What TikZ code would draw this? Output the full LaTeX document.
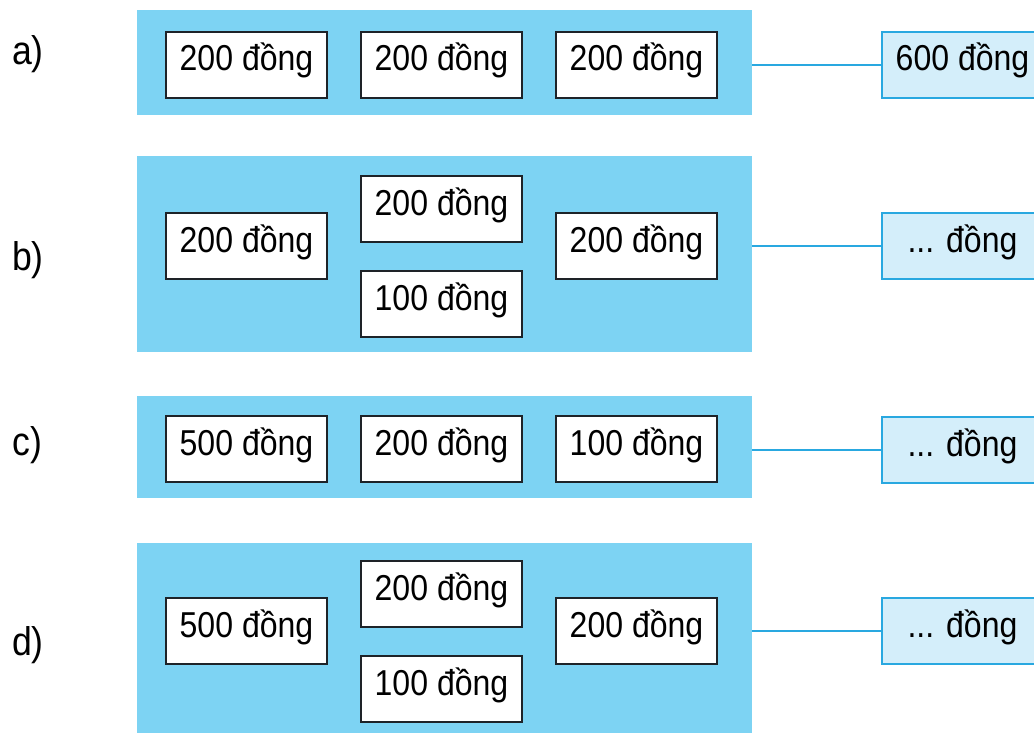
\documentclass[tikz,border=0pt]{standalone}
\usepackage{fontspec}
\setmainfont{Liberation Sans}[FakeStretch=0.89]
\definecolor{panel}{RGB}{125,211,243}
\definecolor{resfill}{RGB}{212,238,250}
\definecolor{resline}{RGB}{41,168,224}
\definecolor{boxline}{RGB}{30,35,40}
\begin{document}
\begin{tikzpicture}[x=1pt,y=-1pt,
  coin/.style={draw=boxline,line width=2.8pt,fill=white,minimum width=161pt,
    inner xsep=0pt,inner ysep=0pt,text height=39pt,text depth=27pt,
    font=\fontsize{36}{40}\selectfont},
  result/.style={coin,draw=resline,line width=2.6pt,fill=resfill},
  panelbox/.style={fill=panel,draw=none,inner sep=0pt,minimum width=615pt},
  lab/.style={font=\fontsize{40}{44}\selectfont,inner sep=0pt,anchor=base west},
  link/.style={draw=resline,line width=2.6pt}]
\clip (0,0) rectangle (1034,733);
\fill[white] (0,0) rectangle (1034,733);

% panels
\node[panelbox,minimum height=105pt] (pa) at (444.5,62.5) {};
\node[panelbox,minimum height=196pt] (pb) at (444.5,254) {};
\node[panelbox,minimum height=102pt] (pc) at (444.5,447) {};
\node[panelbox,minimum height=202pt] (pd) at (444.5,644) {};

% labels
\node[lab] (la) at (12,65) {a)};
\node[lab] (lb) at (12,270) {b)};
\node[lab] (lc) at (12,455) {c)};
\node[lab] (ld) at (12,655) {d)};

% row a
\node[coin] (a1) at (246.5,65) {200 đồng};
\node[coin] (a2) at (441.5,65) {200 đồng};
\node[coin] (a3) at (636.5,65) {200 đồng};
\node[result] (ra) at (962.5,65) {600 đồng};

% row b
\node[coin] (b1) at (246.5,246) {200 đồng};
\node[coin] (b2) at (441.5,209) {200 đồng};
\node[coin] (b3) at (441.5,304) {100 đồng};
\node[coin] (b4) at (636.5,246) {200 đồng};
\node[result] (rb) at (962.5,246) {... đồng};

% row c
\node[coin] (c1) at (246.5,449) {500 đồng};
\node[coin] (c2) at (441.5,449) {200 đồng};
\node[coin] (c3) at (636.5,449) {100 đồng};
\node[result] (rc) at (962.5,450) {... đồng};

% row d
\node[coin] (d1) at (246.5,631) {500 đồng};
\node[coin] (d2) at (441.5,594) {200 đồng};
\node[coin] (d3) at (441.5,689) {100 đồng};
\node[coin] (d4) at (636.5,631) {200 đồng};
\node[result] (rd) at (962.5,631) {... đồng};

% connectors
\draw[link] (pa.east |- ra.west) -- (ra.west);
\draw[link] (pb.east |- rb.west) -- (rb.west);
\draw[link] (pc.east |- rc.west) -- (rc.west);
\draw[link] (pd.east |- rd.west) -- (rd.west);
\end{tikzpicture}
\end{document}
